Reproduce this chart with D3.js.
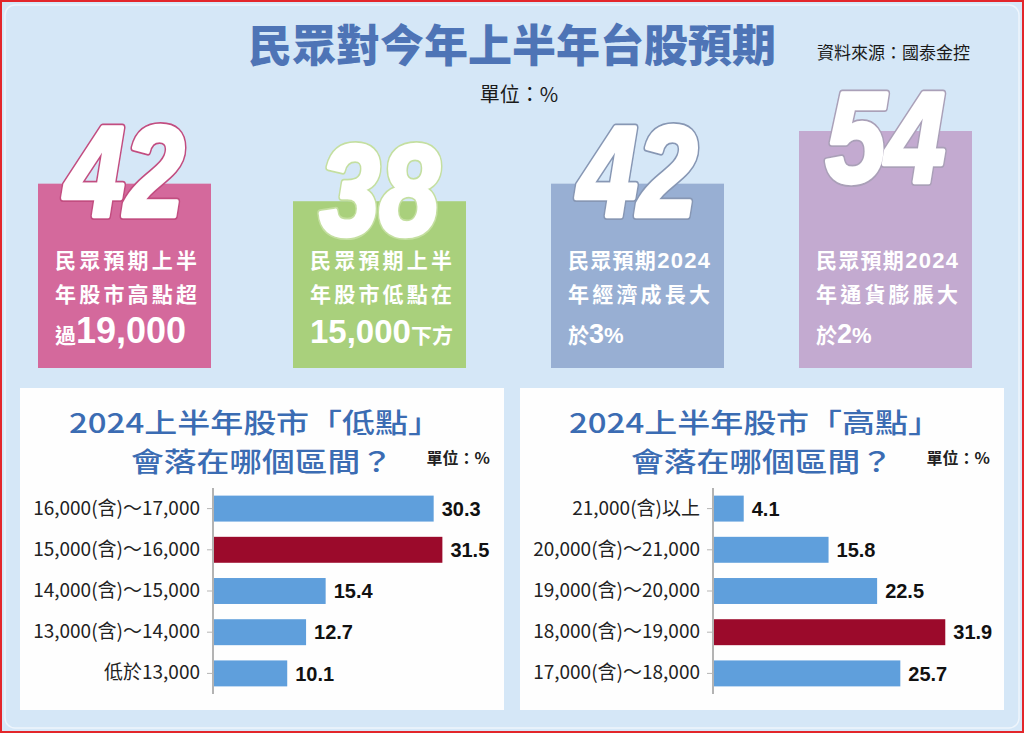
<!DOCTYPE html>
<html>
<head>
<meta charset="utf-8">
<script src="https://cdn.jsdelivr.net/npm/d3@7"></script>
<style>
  html, body { margin: 0; padding: 0; background: #fff; }
  svg { display: block; }
</style>
</head>
<body>
<div id="chart"></div>
<script>
// Top cards: survey share (%) and their captions
const cardValues = [42, 38, 42, 54];
const cardLines = [
    ["民眾預期上半", "年股市高點超", "過19,000"],
    ["民眾預期上半", "年股市低點在", "15,000下方"],
    ["民眾預期2024", "年經濟成長大", "於3%"],
    ["民眾預期2024", "年通貨膨脹大", "於2%"]
];

// Low point ranges
const lowCategories = ["16,000(含)～17,000", "15,000(含)～16,000", "14,000(含)～15,000", "13,000(含)～14,000", "低於13,000"];
const lowValues = [30.3, 31.5, 15.4, 12.7, 10.1];

// High point ranges
const highCategories = ["21,000(含)以上", "20,000(含)～21,000", "19,000(含)～20,000", "18,000(含)～19,000", "17,000(含)～18,000"];
const highValues = [4.1, 15.8, 22.5, 31.9, 25.7];

const W = 1024, H = 733;
const cjk = "'Noto Sans CJK TC', 'Noto Sans CJK SC', sans-serif";
const latin = "'Liberation Sans', Arial, sans-serif";

const svg = d3.select("#chart")
    .append("svg")
    .attr("width", W)
    .attr("height", H);

// Frame and background
svg.append("rect")
    .attr("x", 1).attr("y", 1)
    .attr("width", W - 2).attr("height", H - 2)
    .attr("fill", "#d6e8f8")
    .attr("stroke", "#e3262b")
    .attr("stroke-width", 2);

svg.append("rect")
    .attr("x", 5).attr("y", 5)
    .attr("width", W - 10).attr("height", H - 10)
    .attr("rx", 10)
    .attr("fill", "#d5e7f7")
    .attr("stroke", "#eef5fc")
    .attr("stroke-width", 1.5);

// Titles
svg.append("text")
    .attr("x", 512).attr("y", 62)
    .attr("text-anchor", "middle")
    .style("font-family", cjk)
    .style("font-weight", 900)
    .style("font-size", "44px")
    .attr("fill", "#4e74b6")
    .text("民眾對今年上半年台股預期");

svg.append("text")
    .attr("x", 970).attr("y", 59)
    .attr("text-anchor", "end")
    .style("font-family", cjk)
    .style("font-size", "17px")
    .attr("fill", "#1a1a1a")
    .text("資料來源：國泰金控");

svg.append("text")
    .attr("x", 519).attr("y", 102)
    .attr("text-anchor", "middle")
    .style("font-family", cjk)
    .style("font-size", "20px")
    .attr("fill", "#1a1a1a")
    .text("單位：%");

// Cards: height follows the value
const cardColors = ["#d4699c", "#a9d07c", "#98afd3", "#c3aad0"];
const cardStroke = ["#c24d80", "#c4dfa0", "#8797b4", "#aaa0b8"];
const cardX = [38, 293, 551, 799];
const cardW = 173;
const numOffset = [32, 34, 32, 51];
const bigSize = [36, 33, 27, 27];

const yCard = d3.scaleLinear()
    .domain([0, 54])
    .range([368, 131]);

const cards = svg.selectAll(".card")
    .data(cardValues.map((v, i) => ({ value: v, lines: cardLines[i], i })))
    .enter()
    .append("g")
    .attr("class", "card");

cards.append("rect")
    .attr("x", d => cardX[d.i])
    .attr("y", d => yCard(d.value))
    .attr("width", cardW)
    .attr("height", d => yCard(0) - yCard(d.value))
    .attr("fill", d => cardColors[d.i]);

// big number: coloured outline underneath, thickened white on top
const num = cards.append("g")
    .attr("transform", d => `translate(${cardX[d.i] + cardW / 2},${yCard(d.value) + numOffset[d.i]}) scale(0.84,1)`)
    .style("font-family", latin)
    .style("font-weight", "bold")
    .style("font-style", "italic")
    .style("font-size", "128px")
    .attr("text-anchor", "middle");

num.append("text")
    .attr("fill", d => cardStroke[d.i])
    .attr("stroke", d => cardStroke[d.i])
    .attr("stroke-width", 8)
    .attr("stroke-linejoin", "round")
    .text(d => d.value);

num.append("text")
    .attr("fill", "#fff")
    .attr("stroke", "#fff")
    .attr("stroke-width", 4.5)
    .attr("stroke-linejoin", "round")
    .text(d => d.value);

// Caption lines, digits set in latin bold, bigger on the last line
const lineY = [268, 302, 343];
cards.each(function (d) {
    const g = d3.select(this);
    d.lines.forEach((line, li) => {
        const t = g.append("text")
            .attr("x", cardX[d.i] + 17)
            .attr("y", lineY[li])
            .style("font-family", cjk)
            .style("font-weight", 700)
            .style("font-size", "21px")
            .attr("fill", "#fff");
        if (li < 2) t.attr("textLength", 142).attr("lengthAdjust", "spacing");
        line.split(/([0-9,]+)/).filter(s => s).forEach(part => {
            const isNum = /^[0-9,]+$/.test(part);
            const ts = t.append("tspan").text(part);
            if (isNum) {
                ts.style("font-family", latin)
                    .style("font-size", li === 2 ? bigSize[d.i] + "px" : "22px");
            } else if (part === "%") {
                ts.style("font-family", latin).style("font-size", "22px");
            }
        });
    });
});

// Bar panels
const x = d3.scaleLinear().domain([0, 40]).range([0, 290]);

function drawPanel(px, title, categories, values, maxColor) {
    const g = svg.append("g").attr("transform", `translate(${px},0)`);
    const pw = 484;

    g.append("rect")
        .attr("x", 0).attr("y", 388)
        .attr("width", pw).attr("height", 322)
        .attr("fill", "#fefefe");

    // titles: small size stretched wide, as in the print
    g.append("text")
        .attr("x", pw / 2 - 7).attr("y", 433)
        .attr("text-anchor", "middle")
        .attr("textLength", 372)
        .attr("lengthAdjust", "spacingAndGlyphs")
        .style("font-family", cjk)
        .style("font-weight", 500)
        .style("font-size", "27px")
        .attr("fill", "#3b6cb3")
        .text(title[0]);

    g.append("text")
        .attr("x", pw / 2).attr("y", 472)
        .attr("text-anchor", "middle")
        .attr("textLength", 262)
        .attr("lengthAdjust", "spacingAndGlyphs")
        .style("font-family", cjk)
        .style("font-weight", 500)
        .style("font-size", "27px")
        .attr("fill", "#3b6cb3")
        .text(title[1]);

    g.append("text")
        .attr("x", pw - 14).attr("y", 464)
        .attr("text-anchor", "end")
        .style("font-family", cjk)
        .style("font-weight", 700)
        .style("font-size", "16px")
        .attr("fill", "#222")
        .text("單位：%");

    const y = d3.scaleBand()
        .domain(categories)
        .range([488, 694])
        .paddingInner(0.37)
        .paddingOuter(0.185);

    const ax = 193;
    const axis = g.append("g")
        .attr("transform", `translate(${ax},0)`)
        .call(d3.axisLeft(y).tickSize(6).tickPadding(7));
    axis.select(".domain").attr("stroke", "#9a9a9a").attr("stroke-width", 1.5)
        .attr("d", "M0,488V694");
    axis.selectAll(".tick line").attr("stroke", "#b5b5b5");
    axis.selectAll(".tick text")
        .style("font-family", cjk)
        .style("font-size", "19px")
        .attr("fill", "#222");

    const maxV = d3.max(values);
    const rows = categories.map((c, i) => ({ cat: c, value: values[i] }));

    g.selectAll(".bar")
        .data(rows)
        .enter()
        .append("rect")
        .attr("class", "bar")
        .attr("x", ax + 1)
        .attr("y", d => y(d.cat))
        .attr("width", d => x(d.value))
        .attr("height", y.bandwidth())
        .attr("fill", d => d.value === maxV ? maxColor : "#5f9fdc");

    g.selectAll(".val")
        .data(rows)
        .enter()
        .append("text")
        .attr("class", "val")
        .attr("x", d => ax + 1 + x(d.value) + 8)
        .attr("y", d => y(d.cat) + y.bandwidth() / 2)
        .attr("dy", "0.36em")
        .style("font-family", latin)
        .style("font-weight", "bold")
        .style("font-size", "20px")
        .attr("fill", "#111")
        .text(d => d.value.toFixed(1));
}

drawPanel(20, ["2024上半年股市「低點」", "會落在哪個區間？"], lowCategories, lowValues, "#9b0a2b");
drawPanel(520, ["2024上半年股市「高點」", "會落在哪個區間？"], highCategories, highValues, "#9b0a2b");
</script>
</body>
</html>
